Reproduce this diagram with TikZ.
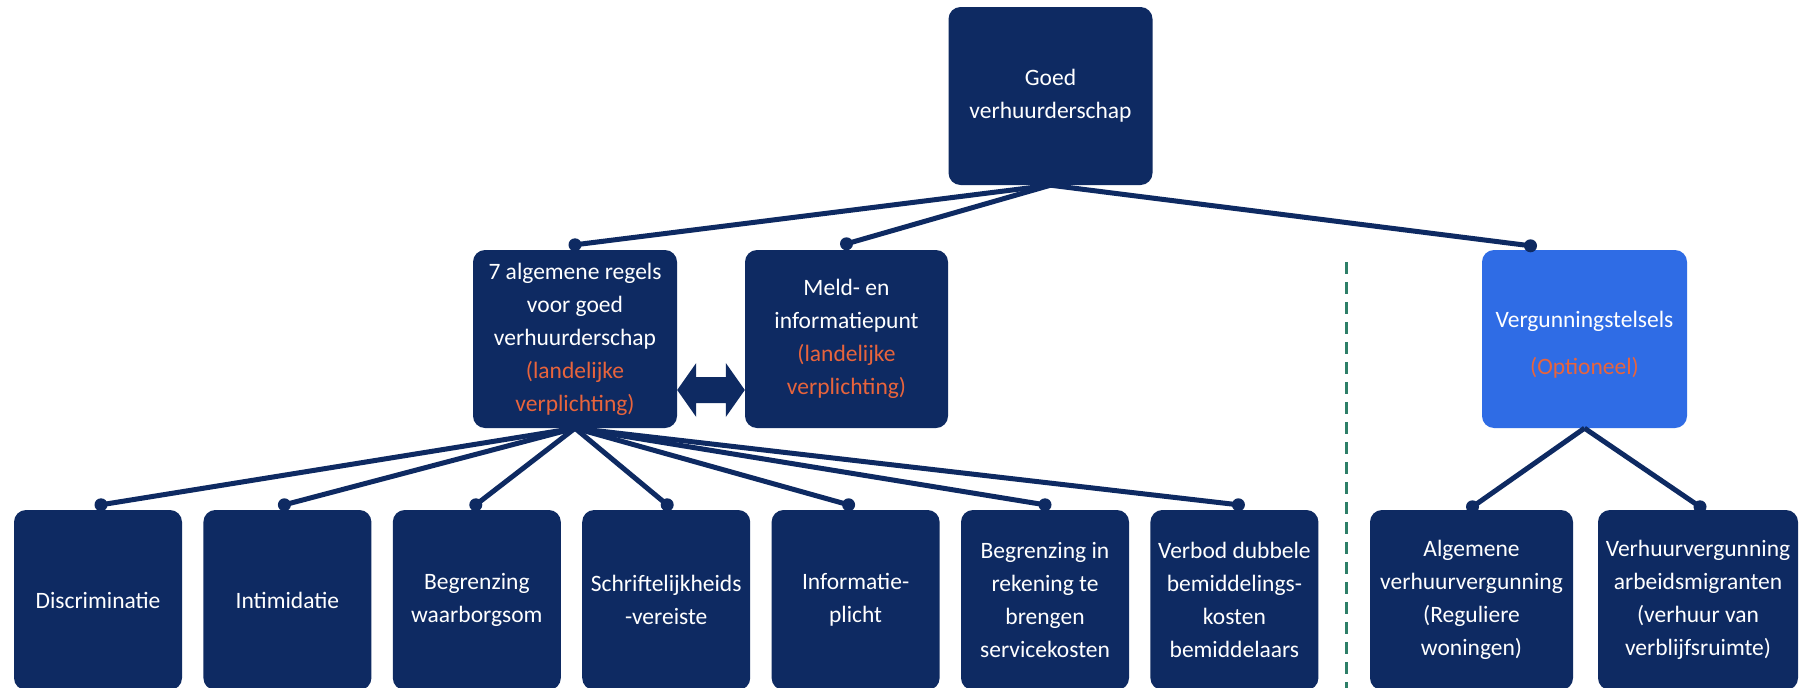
\documentclass[tikz,border=0pt]{standalone}
\usepackage{fontspec}
\setmainfont{Carlito}
\usetikzlibrary{calc}
\definecolor{navy}{HTML}{0E2A62}
\definecolor{lblue}{HTML}{2F6CE5}
\definecolor{orng}{HTML}{E8643C}
\definecolor{dgreen}{HTML}{2E7F68}
\begin{document}
\begin{tikzpicture}[x=1pt,y=-1pt,
  box/.style={fill=navy, rounded corners=12pt, text=white, align=center, inner sep=0pt,
    font=\fontsize{23.5}{33}\selectfont},
  topbox/.style={box, minimum width=204pt, minimum height=178pt},
  lowbox/.style={box, minimum width=168pt, minimum height=180pt},
  link/.style={draw=navy, line width=5pt},
  dot/.style={circle, fill=navy, inner sep=0pt, minimum size=13pt},
  note/.style={text=orng}]
\useasboundingbox[fill=white] (0,0) rectangle (1799,688);

% boxes
\node[topbox] (top) at (1050.5,96) {Goed\\verhuurderschap};
\node[topbox] (alg) at (575,339) {7 algemene regels\\voor goed\\verhuurderschap\\{\color{orng}(landelijke}\\{\color{orng}verplichting)}};
\node[topbox, minimum width=203pt] (meld) at (846.5,339) {Meld- en\\informatiepunt\\{\color{orng}(landelijke}\\{\color{orng}verplichting)}};
\node[topbox, fill=lblue, minimum width=205pt] (verg) at (1584.5,339) {};
\node[align=center, text=white, inner sep=0pt, font=\fontsize{23.5}{33}\selectfont] (vergtxt) at ($(verg.center)+(0,6)$) {Vergunningstelsels\\[14pt]{\color{orng}(Optioneel)}};

\node[lowbox] (b1) at (98,600) {Discriminatie};
\node[lowbox] (b2) at (287.4,600) {Intimidatie};
\node[lowbox] (b3) at (476.8,600) {Begrenzing\\waarborgsom};
\node[lowbox] (b4) at (666.2,600) {Schriftelijkheids\\-vereiste};
\node[lowbox] (b5) at (855.6,600) {Informatie-\\plicht};
\node[lowbox] (b6) at (1045,600) {Begrenzing in\\rekening te\\brengen\\servicekosten};
\node[lowbox] (b7) at (1234.4,600) {Verbod dubbele\\bemiddelings-\\kosten\\bemiddelaars};

\node[box, minimum width=203pt, minimum height=180pt] (r1) at (1471.5,600) {Algemene\\verhuurvergunning\\(Reguliere\\woningen)};
\node[box, minimum width=200pt, minimum height=180pt] (r2) at (1698,600) {Verhuurvergunning\\arbeidsmigranten\\(verhuur van\\verblijfsruimte)};

% dots
\node[dot] (dalg) at ($(alg.north)+(0,-5)$) {};
\node[dot] (dmeld) at ($(meld.north)+(0,-6)$) {};
\node[dot] (dverg) at ($(verg.north)+(-54,-4)$) {};
\foreach \b/\o in {b1/3, b2/-3, b3/-1, b4/1, b5/-7, b6/0, b7/4} {
  \node[dot] (d\b) at ($(\b.north)+(\o,-5)$) {};
}
\node[dot] (dr1) at ($(r1.north)+(1,-3)$) {};
\node[dot] (dr2) at ($(r2.north)+(2,-3)$) {};

% connectors
\draw[link] (top.south) -- (dalg.center);
\draw[link] (top.south) -- (dmeld.center);
\draw[link] (top.south) -- (dverg.center);
\foreach \b in {b1,b2,b3,b4,b5,b6,b7} {
  \draw[link] (alg.south) -- (d\b.center);
}
\draw[link] (verg.south) -- (dr1.center);
\draw[link] (verg.south) -- (dr2.center);

% double arrow between alg and meld
\coordinate (aL) at (alg.east |- 0,390);
\coordinate (aR) at (meld.west |- 0,390);
\fill[navy] (aL) -- ++(19,-27) -- ++(0,14) -- ($(aR)+(-19,-13)$) -- ++(0,-14) -- (aR)
  -- ++(-19,27) -- ++(0,-14) -- ($(aL)+(19,13)$) -- ++(0,14) -- cycle;

% dashed separator
\coordinate (ds) at (1346,262);
\coordinate (de) at (1346,690);
\draw[dgreen, line width=3pt, dash pattern=on 12pt off 8pt] (ds) -- (de);
\end{tikzpicture}
\end{document}
